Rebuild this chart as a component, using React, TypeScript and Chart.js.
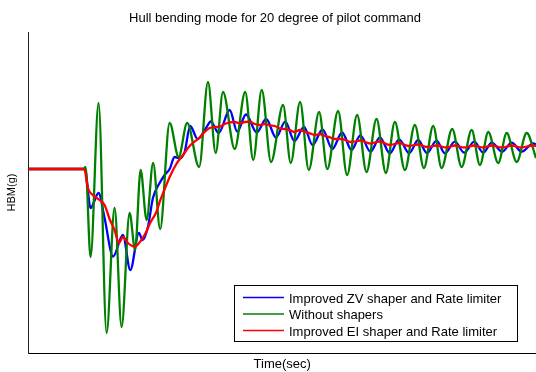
import React, { useEffect, useRef } from "react";
import { Chart, registerables } from "chart.js";

Chart.register(...registerables);

const FONT = '"Liberation Sans", Arial, Helvetica, sans-serif';

const chartTitle = "Hull bending mode for 20 degree of pilot command";
const xTitle = "Time(sec)";
const yTitle = "HBM(g)";

const seriesLabels = [
  "Improved ZV shaper and Rate limiter",
  "Without shapers",
  "Improved EI shaper and Rate limiter",
];
const seriesColors = ["#0000ff", "#008000", "#ff0000"];

const timeMin = 0;
const timeMax = 50.7;
const hbmMin = -1.84;
const hbmMax = 1.37;

// Improved ZV shaper and Rate limiter (blue)
const zvTime = [0, 5.5, 5.7, 6.2, 7.0, 7.6, 8.45, 9.43, 10.17, 11.03, 11.4, 11.93, 12.43, 13.1, 13.6, 14.1, 14.6, 15.1, 15.6, 16.15, 16.9, 17.8, 18.2, 19.0, 20.1, 20.85, 21.73, 22.8, 23.75, 24.72, 25.65, 26.57, 27.52, 28.38, 29.38, 30.35, 31.33, 32.27, 33.15, 34.17, 35.1, 36.1, 37.03, 38.03, 38.93, 39.8, 40.77, 41.6, 42.6, 43.53, 44.53, 45.43, 46.27, 47.33, 48.27, 49.27, 50.43, 50.7];
const zvHbm = [0, 0, -0.02, -0.39, -0.24, -0.49, -0.875, -0.66, -1.01, -0.64, -0.71, -0.58, -0.29, -0.14, -0.06, 0, 0.12, 0.107, 0.17, 0.43, 0.3, 0.42, 0.475, 0.36, 0.59, 0.373, 0.545, 0.365, 0.5, 0.315, 0.473, 0.28, 0.42, 0.24, 0.395, 0.2, 0.365, 0.19, 0.335, 0.173, 0.317, 0.157, 0.297, 0.157, 0.29, 0.16, 0.283, 0.157, 0.273, 0.163, 0.273, 0.163, 0.263, 0.173, 0.263, 0.173, 0.257, 0.245];

// Without shapers (green)
const noShaperTime = [0, 5.5, 5.7, 6.2, 7.0, 7.8, 8.6, 9.3, 10.1, 10.65, 11.2, 11.8, 12.45, 13.15, 14.1, 15.0, 15.85, 17.05, 17.93, 18.7, 19.43, 20.6, 21.65, 22.45, 23.3, 24.23, 25.43, 26.2, 27.13, 28.0, 29.03, 29.85, 30.93, 31.83, 32.83, 33.77, 34.77, 35.7, 36.6, 37.6, 38.6, 39.5, 40.43, 41.27, 42.33, 43.27, 44.27, 45.1, 45.93, 46.93, 47.77, 48.77, 49.77, 50.7];
const noShaperHbm = [0, 0, 0.02, -0.88, 0.66, -1.64, -0.39, -1.58, -0.44, -0.81, -0.01, -0.51, 0.06, -0.6, 0.46, 0.12, 0.46, 0.02, 0.87, 0.16, 0.77, 0.2, 0.77, 0.09, 0.79, 0.07, 0.64, 0.06, 0.67, -0.01, 0.57, 0.0, 0.58, -0.06, 0.54, -0.03, 0.5, -0.04, 0.47, -0.01, 0.44, 0.01, 0.43, 0.01, 0.4, 0.02, 0.39, 0.04, 0.37, 0.06, 0.36, 0.07, 0.36, 0.11];

// Improved EI shaper and Rate limiter (red)
const eiTime = [0, 5.57, 5.93, 6.43, 7.1, 7.6, 8.1, 8.6, 9.03, 9.43, 9.93, 10.6, 11.27, 11.77, 12.1, 12.77, 13.1, 13.77, 14.1, 14.77, 15.43, 16.1, 17.1, 17.6, 18.1, 18.6, 19.1, 19.6, 20.1, 20.6, 21.1, 21.6, 22.1, 22.6, 23.1, 23.6, 24.1, 24.6, 25.1, 25.6, 26.1, 26.6, 27.1, 27.6, 28.1, 28.6, 29.1, 29.6, 30.1, 30.6, 31.3, 32.2, 33.2, 34.1, 35.1, 36.1, 37.0, 38.0, 38.9, 39.8, 40.8, 41.7, 42.6, 43.5, 44.5, 45.4, 46.3, 47.3, 48.3, 49.2, 50.4, 50.7];
const eiHbm = [0, 0, -0.19, -0.26, -0.31, -0.36, -0.5, -0.61, -0.74, -0.68, -0.74, -0.777, -0.71, -0.627, -0.55, -0.43, -0.33, -0.16, -0.08, 0.05, 0.14, 0.23, 0.315, 0.37, 0.41, 0.42, 0.423, 0.45, 0.467, 0.47, 0.457, 0.47, 0.473, 0.45, 0.44, 0.45, 0.435, 0.43, 0.407, 0.4, 0.39, 0.37, 0.39, 0.37, 0.357, 0.34, 0.35, 0.33, 0.317, 0.3, 0.3, 0.27, 0.285, 0.255, 0.275, 0.24, 0.26, 0.23, 0.245, 0.22, 0.235, 0.215, 0.235, 0.215, 0.235, 0.215, 0.235, 0.215, 0.235, 0.215, 0.235, 0.23];

const toPoints = (t: number[], v: number[]) => t.map((x, i) => ({ x, y: v[i] }));

const overlayPlugin = {
  id: "overlay",
  afterDraw(chart: any) {
    const ctx = chart.ctx as CanvasRenderingContext2D;
    const area = chart.chartArea;
    ctx.save();
    // title
    ctx.font = `13px ${FONT}`;
    ctx.fillStyle = "#000";
    ctx.textAlign = "center";
    ctx.textBaseline = "middle";
    ctx.fillText(chartTitle, 275, 18.5);

    // legend box
    const boxW = 283;
    const boxH = 56;
    const bx = Math.round(area.right - 19 - boxW);
    const by = Math.round(area.bottom - 12 - boxH);
    ctx.fillStyle = "#fff";
    ctx.fillRect(bx, by, boxW, boxH);
    ctx.strokeStyle = "#000";
    ctx.lineWidth = 1;
    ctx.strokeRect(bx + 0.5, by + 0.5, boxW, boxH);
    ctx.textAlign = "left";
    ctx.textBaseline = "middle";
    const rowY = [12.5, 29, 45.5];
    seriesLabels.forEach((label, i) => {
      const y = by + rowY[i];
      ctx.strokeStyle = seriesColors[i];
      ctx.lineWidth = 1.5;
      ctx.beginPath();
      ctx.moveTo(bx + 9, y);
      ctx.lineTo(bx + 50, y);
      ctx.stroke();
      ctx.fillStyle = "#000";
      ctx.fillText(label, bx + 55, y + 1.5);
    });
    ctx.restore();
  },
};

export default function App() {
  const ref = useRef<HTMLCanvasElement>(null);
  useEffect(() => {
    const canvas = ref.current;
    if (!canvas) return;
    const orders = [3, 2, 1];
    const series = [
      toPoints(zvTime, zvHbm),
      toPoints(noShaperTime, noShaperHbm),
      toPoints(eiTime, eiHbm),
    ];
    const chart = new Chart(canvas, {
      type: "line",
      data: {
        datasets: series.map((data, i) => ({
          label: seriesLabels[i],
          data,
          borderColor: seriesColors[i],
          backgroundColor: seriesColors[i],
          borderWidth: 2.3,
          pointRadius: 0,
          fill: false,
          cubicInterpolationMode: "monotone" as const,
          order: orders[i],
        })),
      },
      options: {
        animation: false,
        responsive: false,
        maintainAspectRatio: false,
        devicePixelRatio: 1,
        layout: { padding: { top: 32, left: 0, right: 0, bottom: 0 } },
        plugins: {
          legend: { display: false },
          title: { display: false },
          tooltip: { enabled: false },
        },
        scales: {
          x: {
            type: "linear",
            min: timeMin,
            max: timeMax,
            ticks: { display: false },
            grid: { display: false, drawTicks: false },
            border: { display: true, color: "#000", width: 1 },
            title: {
              display: true,
              text: xTitle,
              color: "#000",
              font: { family: FONT, size: 13 },
              padding: { top: 3.4, bottom: 0 },
            },
          },
          y: {
            type: "linear",
            min: hbmMin,
            max: hbmMax,
            ticks: { display: false },
            grid: { display: false, drawTicks: false },
            border: { display: true, color: "#222", width: 1 },
            title: {
              display: true,
              text: yTitle,
              color: "#000",
              font: { family: FONT, size: 11 },
              padding: { top: 5.4, bottom: 9.9 },
            },
          },
        },
      },
      plugins: [overlayPlugin],
    });
    return () => chart.destroy();
  }, []);
  return (
    <div style={{ position: "absolute", left: 0, top: 0, width: 536, height: 372, background: "#fff" }}>
      <canvas ref={ref} width={536} height={372} style={{ display: "block", width: 536, height: 372 }} />
    </div>
  );
}
